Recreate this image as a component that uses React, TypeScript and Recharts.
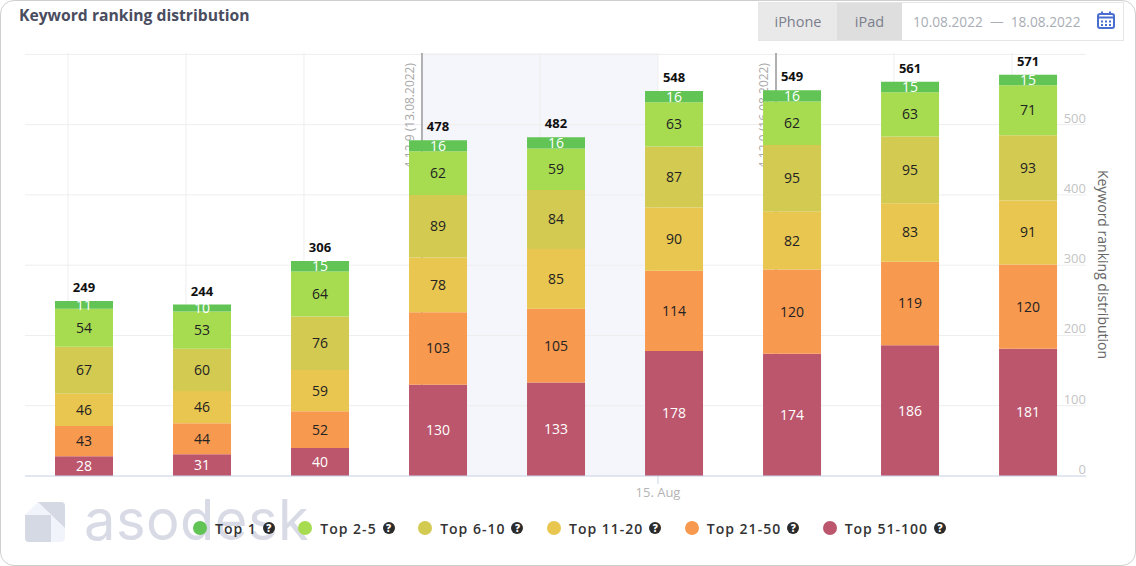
import {
  Bar,
  BarChart,
  CartesianGrid,
  LabelList,
  Legend,
  ReferenceArea,
  ReferenceLine,
  XAxis,
  YAxis,
} from "recharts";

// snapshot time per bar, in days of August 2022 (bars sit a few hours past midnight)
const snapshots = [10.136, 11.136, 12.136, 13.136, 14.136, 15.136, 16.136, 17.136, 18.136];
const top1 = [11, 10, 15, 16, 16, 16, 16, 15, 15];
const top2to5 = [54, 53, 64, 62, 59, 63, 62, 63, 71];
const top6to10 = [67, 60, 76, 89, 84, 87, 95, 95, 93];
const top11to20 = [46, 46, 59, 78, 85, 90, 82, 83, 91];
const top21to50 = [43, 44, 52, 103, 105, 114, 120, 119, 120];
const top51to100 = [28, 31, 40, 130, 133, 178, 174, 186, 181];
const totals = [249, 244, 306, 478, 482, 548, 549, 561, 571];

const dayTicks = [10, 11, 12, 13, 14, 15, 16, 17, 18];
const valueTicks = [0, 100, 200, 300, 400, 500, 600];

const seriesNames = ["Top 1", "Top 2-5", "Top 6-10", "Top 11-20", "Top 21-50", "Top 51-100"];

const data = snapshots.map((t, i) => ({
  t,
  top1: top1[i],
  top2to5: top2to5[i],
  top6to10: top6to10[i],
  top11to20: top11to20[i],
  top21to50: top21to50[i],
  top51to100: top51to100[i],
  total: totals[i],
}));

const font = "'Open Sans', sans-serif";

function DayTick({ x, y, payload }: any) {
  if (payload.value !== 15) return null;
  return (
    <g>
      <line x1={x} x2={x} y1={y - 8} y2={y} stroke="#ccd6eb" />
      <text x={x} y={y + 13} textAnchor="middle" fontSize={13} fill="#b4b4b4" fontFamily={font}>
        15. Aug
      </text>
    </g>
  );
}

function ValueTick({ y, payload }: any) {
  if (payload.value === 600) return null;
  return (
    <text x={1086} y={y - 2} textAnchor="end" fontSize={13} fill="#c4c4c4" fontFamily={font}>
      {payload.value}
    </text>
  );
}

function ChartLegend({ payload }: any) {
  const items = seriesNames.map((name) => (payload ?? []).find((p: any) => p.value === name)).filter(Boolean);
  return (
    <div style={{ display: "flex", height: 24, alignItems: "center", fontFamily: font }}>
      {items.map((item: any) => (
        <div key={item.value} style={{ display: "flex", alignItems: "center", marginRight: 23.5 }}>
          <span style={{ width: 14, height: 14, borderRadius: "50%", background: item.color, marginRight: 8 }} />
          <span style={{ fontSize: 14, fontWeight: 600, color: "#333", letterSpacing: 1 }}>{item.value}</span>
          <span
            style={{
              width: 12,
              height: 12,
              marginLeft: 6,
              borderRadius: "50%",
              background: "#2b2b2b",
              color: "#fff",
              fontSize: 10,
              fontWeight: 800,
              lineHeight: "12px",
              textAlign: "center",
            }}
          >
            ?
          </span>
        </div>
      ))}
    </div>
  );
}

function Watermark() {
  return (
    <div style={{ position: "absolute", left: 24, top: 501 }}>
      <svg width={40} height={40} style={{ position: "absolute", left: 0, top: 0 }}>
        <path d="M13 0 H35 Q40 0 40 5 V35 Q40 40 35 40 H5 Q0 40 0 35 V13 Z" fill="#f1f4fb" />
        <path d="M0 13 H26 V40 H4 Q0 40 0 36 Z" fill="#d5d9e4" />
        <path d="M13 0 H36 Q40 0 40 4 V26 Z" fill="#d5d9e4" />
      </svg>
      <div
        style={{
          position: "absolute",
          left: 59,
          top: -15,
          fontFamily: "Inter, sans-serif",
          fontSize: 56,
          letterSpacing: 0.5,
          color: "#d8dbe5",
          lineHeight: "66px",
        }}
      >
        asodesk
      </div>
    </div>
  );
}

function Header() {
  return (
    <>
      <div
        style={{
          position: "absolute",
          left: 18,
          top: 4,
          fontFamily: font,
          fontWeight: 700,
          fontSize: 15.7,
          lineHeight: "20px",
          color: "#4a4d60",
        }}
      >
        Keyword ranking distribution
      </div>
      <div
        style={{
          position: "absolute",
          left: 757,
          top: 1,
          width: 366,
          height: 39,
          boxSizing: "border-box",
          border: "1px solid #e6e6e6",
          display: "flex",
          fontFamily: font,
          fontSize: 14.5,
          lineHeight: "37px",
          color: "#7b7f8c",
        }}
      >
        <div style={{ width: 78, textAlign: "center", background: "#e9e9e9" }}>iPhone</div>
        <div style={{ width: 65, textAlign: "center", background: "#dedede" }}>iPad</div>
        <div style={{ marginLeft: 11, color: "#a9adb6", fontSize: 13.7 }}>10.08.2022 &nbsp;— &nbsp;18.08.2022</div>
        <svg width={18} height={18} style={{ position: "absolute", left: 338, top: 8 }}>
          <rect x={1} y={3} width={16} height={14} rx={2} fill="none" stroke="#4a6ed0" strokeWidth={2} />
          <line x1={1} x2={17} y1={6.5} y2={6.5} stroke="#4a6ed0" strokeWidth={2} />
          <line x1={5} x2={5} y1={0.5} y2={4} stroke="#4a6ed0" strokeWidth={2} />
          <line x1={13} x2={13} y1={0.5} y2={4} stroke="#4a6ed0" strokeWidth={2} />
          <path d="M4 9.5h2v2H4zM8 9.5h2v2H8zM12 9.5h2v2h-2zM4 13h2v2H4zM8 13h2v2H8zM12 13h2v2h-2z" fill="#4a6ed0" />
        </svg>
      </div>
    </>
  );
}

const versionLabel = (text: string) => ({ viewBox }: any) => (
  <text
    transform={`translate(${viewBox.x - 8},${viewBox.y + 10}) rotate(-90)`}
    textAnchor="end"
    fontSize={12}
    fill="#a8a8a8"
    fontFamily={font}
  >
    {text}
  </text>
);

const stack = [
  { key: "top51to100", name: seriesNames[5], color: "#bb566c", label: "#fff" },
  { key: "top21to50", name: seriesNames[4], color: "#f79a50", label: "#222" },
  { key: "top11to20", name: seriesNames[3], color: "#e9c64f", label: "#222" },
  { key: "top6to10", name: seriesNames[2], color: "#d3ca52", label: "#222" },
  { key: "top2to5", name: seriesNames[1], color: "#a8dc50", label: "#222" },
  { key: "top1", name: seriesNames[0], color: "#62c454", label: "#fff" },
];

export default function App() {
  return (
    <div
      style={{
        position: "absolute",
        left: 0,
        top: 0,
        width: 1136,
        height: 566,
        boxSizing: "border-box",
        background: "#fff",
        border: "1px solid #cfcfcf",
        borderRadius: 14,
        overflow: "hidden",
      }}
    >
      <Watermark />
      <Header />
      <div style={{ position: "absolute", left: -1, top: -1 }}>
        <BarChart
          width={1136}
          height={566}
          data={data}
          margin={{ top: 53, right: 0, bottom: 0, left: 25 }}
          barSize={58}
        >
          <ReferenceArea x1={13} x2={15} y1={0} y2={602} fill="#f5f6fb" fillOpacity={1} stroke="none" zIndex={-2} />
          <CartesianGrid stroke="#eeeeee" syncWithTicks zIndex={-1} />
          <ReferenceLine x={13} stroke="#b0b0b0" strokeWidth={2} zIndex={-1} label={versionLabel("4.12.9 (13.08.2022)")} />
          <ReferenceLine x={16} stroke="#b0b0b0" strokeWidth={2} zIndex={-1} label={versionLabel("4.12.9 (16.08.2022)")} />
          <XAxis
            dataKey="t"
            type="number"
            domain={[9.636, 18.627]}
            ticks={dayTicks}
            interval={0}
            height={50}
            stroke="#ccd6eb"
            tickLine={false}
            tick={<DayTick />}
          />
          <YAxis
            orientation="right"
            domain={[0, 602]}
            ticks={valueTicks}
            width={50}
            axisLine={false}
            tickLine={false}
            tick={<ValueTick />}
            label={{
              value: "Keyword ranking distribution",
              angle: 90,
              position: "insideRight",
              offset: 33,
              dy: 0,
              style: { textAnchor: "middle", fontSize: 14, fill: "#666", fontFamily: font },
            }}
          />
          {stack.map((s) => (
            <Bar key={s.key} dataKey={s.key} name={s.name} stackId="rank" fill={s.color} isAnimationActive={false}>
              <LabelList
                dataKey={s.key}
                position="center"
                fill={s.label}
                fontSize={14}
                fontWeight={s.label === "#fff" ? 400 : 500}
                fontFamily={font}
              />
              {s.key === "top1" ? (
                <LabelList
                  dataKey="total"
                  position="top"
                  offset={9}
                  fill="#111"
                  fontSize={13}
                  fontWeight={700}
                  fontFamily={font}
                />
              ) : null}
            </Bar>
          ))}
          <Legend
            verticalAlign="bottom"
            content={<ChartLegend />}
            wrapperStyle={{ left: 193, bottom: 10, width: 800, height: 40 }}
          />
        </BarChart>
      </div>
    </div>
  );
}
